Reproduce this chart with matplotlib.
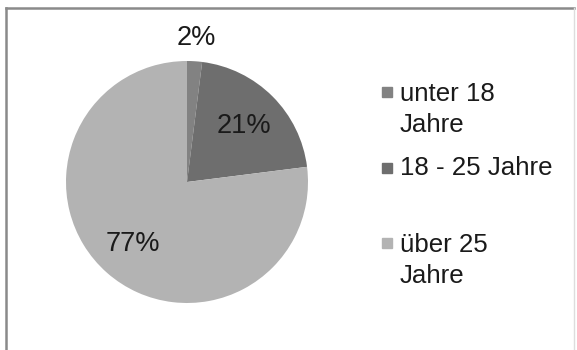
import numpy as np
import matplotlib
matplotlib.use("Agg")
import matplotlib.pyplot as plt
from matplotlib.patches import Rectangle
from matplotlib.lines import Line2D

categories = ["unter 18\nJahre", "18 - 25 Jahre", "über 25\nJahre"]
shares = [2, 21, 77]
colors = ["#828282", "#6e6e6e", "#b3b3b3"]

plt.rcParams["font.family"] = ["Liberation Sans", "DejaVu Sans"]

W, H = 577, 350
fig = plt.figure(figsize=(W / 100, H / 100), dpi=100)
fig.patch.set_facecolor("white")

# outer chart frame: dark left/top, faint right
fig.add_artist(Line2D([6 / W, 6 / W], [0, 1 - 8 / H], transform=fig.transFigure,
                      color="#8a8a8a", lw=1.8))
fig.add_artist(Line2D([6 / W, 574 / W], [1 - 8 / H, 1 - 8 / H], transform=fig.transFigure,
                      color="#8a8a8a", lw=1.8))
fig.add_artist(Line2D([574 / W, 574 / W], [0, 1 - 8 / H], transform=fig.transFigure,
                      color="#dddddd", lw=1.0))

# pie: centre (187, 182) px, radius 121 px
cx, cy, r = 187, 182, 121
ax = fig.add_axes([(cx - r) / W, 1 - (cy + r) / H, 2 * r / W, 2 * r / H])
wedges, texts, autotexts = ax.pie(
    shares, colors=colors, startangle=90, counterclock=False,
    autopct="%d%%", textprops={"fontsize": 19.5, "color": "#1a1a1a"},
)
ax.set_xlim(-1, 1)
ax.set_ylim(-1, 1)

# label distances from the centre, like the Excel layout
label_dist = [1.19, 0.66, 0.68]
for w, t, d in zip(wedges, autotexts, label_dist):
    mid = np.deg2rad((w.theta1 + w.theta2) / 2)
    t.set_position((d * np.cos(mid), d * np.sin(mid)))

# legend, laid out like the Excel one (marker centre y, last-line baseline y)
marker_y = [92, 168, 243]
base_y = [132, 175, 283]
for lab, col, my, by in zip(categories, colors, marker_y, base_y):
    fig.add_artist(Rectangle((382 / W, 1 - (my + 5) / H), 10 / W, 10 / H,
                             transform=fig.transFigure, color=col))
    fig.text(400 / W, 1 - by / H, lab, fontsize=18.6, color="#1a1a1a",
             va="baseline", ha="left", linespacing=1.38)

fig.savefig("out.png", dpi=100)
